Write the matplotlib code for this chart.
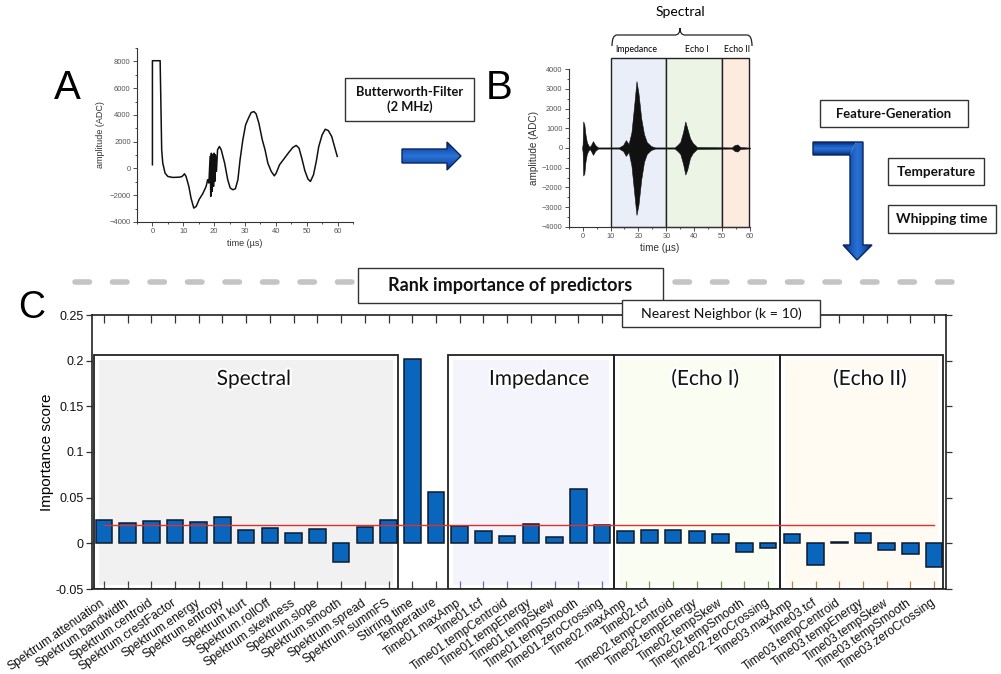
import matplotlib

matplotlib.use("Agg")
import matplotlib.pyplot as plt
import matplotlib.transforms as mtransforms
import numpy as np
from matplotlib import patheffects
from matplotlib.colors import LinearSegmentedColormap
from matplotlib.patches import PathPatch, Polygon, Rectangle
from matplotlib.path import Path
from matplotlib.ticker import FormatStrFormatter, MultipleLocator

plt.rcParams["font.family"] = ["Liberation Sans", "DejaVu Sans"]

W, H = 1001, 674

# panel A: raw trace (time in us, amplitude in ADC)
raw_t = [0.0, 0.0, 2.5, 3.0, 3.35, 4.1, 5.0, 6.6, 8.8, 9.6, 10.4, 10.9, 11.8, 12.5,
         13.4, 14.2, 15.2, 16.3, 17.4, 17.9, 18.3, 18.7, 18.9, 19.1, 19.35, 19.55,
         19.8, 20.0, 20.2, 20.4, 20.75, 21.1, 21.7, 22.3, 23.4, 24.4, 25.2, 26.1,
         26.9, 27.7, 28.4, 29.3, 30.2, 31.1, 32.0, 32.9, 33.6, 34.5, 35.6, 36.5,
         37.4, 38.5, 39.5, 40.1, 41.2, 42.8, 44.2, 45.5, 46.6, 47.5, 48.4, 49.4,
         50.4, 51.2, 52.2, 53.1, 53.9, 55.0, 56.0, 57.0, 58.1, 59.0, 59.9]
raw_amp = [275, 8050, 8050, 1390, 400, -350, -600, -670, -650, -600, -400, -600,
           -1340, -2210, -2960, -2830, -2290, -1890, -1340, -840, -1090, 900, -2090,
           1140, -1710, 1020, -1340, 1140, -970, 1020, -220, 1390, 1640, 1390, 400,
           -840, -1460, -1590, -1510, -840, 650, 2140, 3260, 3750, 4180, 4250, 4080,
           3380, 2140, 1390, 400, -220, -550, -350, 280, 770, 1200, 1570, 1720, 1520,
           770, -170, -790, -970, -470, 530, 1640, 2510, 2930, 2830, 2390, 1640, 900]

# panel B: envelope of the 2 MHz filtered trace
filt_t = [-0.2, 0.0, 0.2, 0.6, 1.0, 1.5, 2.0, 2.5, 3.0, 3.7, 4.5, 5.5, 13.0, 14.5,
          15.5, 16.5, 17.5, 18.5, 19.3, 20.0, 21.0, 22.0, 23.0, 24.5, 26.0, 33.0,
          34.0, 35.0, 36.0, 36.8, 37.5, 38.5, 39.5, 41.0, 53.5, 54.5, 55.5, 56.5, 60.0]
filt_hi = [0, 200, 1350, 1200, 700, 300, 150, 50, 150, 350, 150, 30, 30, 150, 400,
           200, 800, 2200, 3400, 2800, 1500, 700, 300, 100, 30, 30, 150, 300, 800,
           1350, 1000, 500, 250, 50, 30, 150, 180, 50, 20]
filt_lo = [0, -200, -1400, -1300, -700, -300, -150, -50, -150, -350, -150, -30, -30,
           -150, -400, -200, -900, -2300, -3400, -2900, -1600, -700, -300, -100, -30,
           -30, -150, -300, -800, -1350, -1100, -500, -250, -50, -30, -150, -180, -50,
           -20]

windows = ["Impedance", "Echo I", "Echo II"]
window_start = [10, 30, 50]
window_end = [30, 50, 59.5]
window_colors = ["#e9eef8", "#ecf4e6", "#fdebe0"]

# panel C: predictor importance
predictors = [
    "Spektrum.attenuation", "Spektrum.bandwidth", "Spektrum.centroid",
    "Spektrum.crestFactor", "Spektrum.energy", "Spektrum.entropy", "Spektrum.kurt",
    "Spektrum.rollOff", "Spektrum.skewness", "Spektrum.slope", "Spektrum.smooth",
    "Spektrum.spread", "Spektrum.summFS", "Stirring time", "Temperature",
    "Time01.maxAmp", "Time01.tcf", "Time01.tempCentroid", "Time01.tempEnergy",
    "Time01.tempSkew", "Time01.tempSmooth", "Time01.zeroCrossing",
    "Time02.maxAmp", "Time02.tcf", "Time02.tempCentroid", "Time02.tempEnergy",
    "Time02.tempSkew", "Time02.tempSmooth", "Time02.zeroCrossing",
    "Time03.maxAmp", "Time03.tcf", "Time03.tempCentroid", "Time03.tempEnergy",
    "Time03.tempSkew", "Time03.tempSmooth", "Time03.zeroCrossing",
]
importance = [0.0257, 0.0228, 0.0243, 0.0257, 0.0239, 0.0283, 0.0148, 0.0166, 0.0111,
              0.0159, -0.0199, 0.0184, 0.0254, 0.202, 0.056,
              0.0195, 0.014, 0.0079, 0.0213, 0.0065, 0.059, 0.0197,
              0.0135, 0.0146, 0.0142, 0.0135, 0.0102, -0.0095, -0.0047,
              0.0098, -0.0241, 0.001, 0.0109, -0.0073, -0.012, -0.0258]
threshold = 0.0205

groups = ["Spectral", "Impedance", "(Echo I)", "(Echo II)"]
group_first = [0, 15, 22, 29]
group_last = [12, 21, 28, 35]
group_fill = ["#f1f1f1", "#f4f4fd", "#fafdf2", "#fffaf2"]
group_tick = ["#444444", "#6a6aa8", "#6aa04a", "#b08a40"]

fig = plt.figure(figsize=(W / 100, H / 100), dpi=100)


def px_rect(x0, y0, x1, y1):
    return [x0 / W, 1 - y1 / H, (x1 - x0) / W, (y1 - y0) / H]


def small_axes(ax, size):
    for side in ("top", "right"):
        ax.spines[side].set_visible(False)
    for side in ("left", "bottom"):
        ax.spines[side].set_color("#333333")
        ax.spines[side].set_linewidth(0.8)
    ax.tick_params(which="both", direction="out", colors="#333333", labelcolor="#555555",
                   labelsize=size, width=0.6, pad=1.5)
    ax.tick_params(which="major", length=3)
    ax.tick_params(which="minor", length=1.5)


# ---- panel A
ax_a = fig.add_axes(px_rect(137, 48, 353, 222))
ax_a.plot(raw_t, raw_amp, color="#111111", lw=1.1)
ax_a.set_xlim(-5, 65)
ax_a.set_ylim(-4000, 9000)
ax_a.xaxis.set_major_locator(MultipleLocator(10))
ax_a.xaxis.set_minor_locator(MultipleLocator(5))
ax_a.yaxis.set_major_locator(MultipleLocator(2000))
ax_a.yaxis.set_minor_locator(MultipleLocator(1000))
small_axes(ax_a, 5.5)
ax_a.set_xlabel("time (µs)", fontsize=6.5, color="#333333", labelpad=3)
ax_a.set_ylabel("amplitude (ADC)", fontsize=6.5, color="#333333", labelpad=3)

# ---- panel B
ax_b = fig.add_axes(px_rect(568.7, 69.3, 750, 226.7))
for s, e, c in zip(window_start, window_end, window_colors):
    ax_b.add_patch(Rectangle((s, -4000), e - s, 8580, facecolor=c, edgecolor="#222222",
                             lw=1.0, clip_on=False, zorder=0))
ax_b.fill_between(filt_t, filt_lo, filt_hi, color="#111111", lw=0.4, zorder=2)
ax_b.set_xlim(-5, 60)
ax_b.set_ylim(-4000, 4000)
ax_b.xaxis.set_major_locator(MultipleLocator(10))
ax_b.xaxis.set_minor_locator(MultipleLocator(5))
ax_b.yaxis.set_major_locator(MultipleLocator(1000))
ax_b.yaxis.set_minor_locator(MultipleLocator(500))
small_axes(ax_b, 5.3)
ax_b.set_xlabel("time (µs)", fontsize=7.2, color="#333333", labelpad=2)
ax_b.set_ylabel("amplitude (ADC)", fontsize=7.2, color="#333333", labelpad=2)

# ---- panel C
ax_c = fig.add_axes(px_rect(92, 315, 946, 589))
x = np.arange(len(predictors))
ax_c.set_xlim(-0.5, 35.5)
ax_c.set_ylim(-0.05, 0.25)
box_top = 0.2062

for k, name in enumerate(groups):
    lo = group_first[k] - (0.42 if k == 0 else 0.5)
    hi = group_last[k] + (0.38 if k in (0, 3) else 0.5)
    ax_c.add_patch(Rectangle((lo + 0.2, -0.046), hi - lo - 0.4, box_top + 0.04,
                             facecolor=group_fill[k], edgecolor="none", zorder=0.5))
    ax_c.add_patch(Rectangle((lo, -0.05), hi - lo, box_top + 0.05, facecolor="none",
                             edgecolor="#222222", lw=1.3, zorder=2))
    ax_c.text((lo + hi) / 2 + 0.35, 0.18, name, fontsize=15, family="Lato",
              ha="center", va="center", color="#111111", zorder=5,
              path_effects=[patheffects.withStroke(linewidth=3, foreground="white")])

ax_c.bar(x, importance, width=0.7, color="#0a66bd", edgecolor="#0d1b2e", lw=1.1,
         zorder=3)
ax_c.plot([x[0], x[-1]], [threshold, threshold], color="#e0302a", lw=1, zorder=4)

ax_c.set_xticks(x)
ax_c.set_xticklabels(predictors, rotation=35, ha="right", va="center",
                     rotation_mode="anchor", fontsize=8.7)
shift = mtransforms.ScaledTranslation(5 / 100, 0, fig.dpi_scale_trans)
for lab in ax_c.get_xticklabels():
    lab.set_transform(lab.get_transform() + shift)
ax_c.yaxis.set_major_locator(MultipleLocator(0.05))
ax_c.yaxis.set_major_formatter(FormatStrFormatter("%g"))
ax_c.tick_params(axis="x", which="major", direction="in", top=True, length=6,
                 width=0.9, pad=9, colors="#333333", labelcolor="#111111")
ax_c.tick_params(axis="y", direction="out", length=4, width=0.9, labelsize=9,
                 colors="#333333", labelcolor="#111111", pad=2)
ax_c.tick_params(axis="y", right=True)
for side in ax_c.spines.values():
    side.set_linewidth(1.2)
    side.set_color("#222222")
for i, tk in enumerate(ax_c.xaxis.get_major_ticks()):
    g = [k for k in range(len(groups)) if group_first[k] <= i <= group_last[k]]
    tk.tick1line.set_markeredgecolor(group_tick[g[0]] if g else "#444444")
ax_c.set_ylabel("Importance score", fontsize=11, labelpad=1)

# ---- overlay for letters, boxes and arrows
ov = fig.add_axes([0, 0, 1, 1])
ov.set_zorder(10)
ov.axis("off")

arrow_cmap = LinearSegmentedColormap.from_list(
    "arrow", ["#0a2466", "#1556b8", "#2a72d4", "#1556b8", "#0a2466"])


def gradient_fill(clip_points, box, across_y):
    clip = Polygon(clip_points, closed=True, facecolor="none", edgecolor="none")
    ov.add_patch(clip)
    ramp = np.linspace(0, 1, 64)
    img = ramp[:, None] if across_y else ramp[None, :]
    im = ov.imshow(img, cmap=arrow_cmap, extent=box, aspect="auto", zorder=2,
                   interpolation="bilinear")
    im.set_clip_path(clip)


def outline(points):
    ov.add_patch(Polygon(points, closed=True, facecolor="none", edgecolor="#0b2560",
                         lw=1.0, joinstyle="miter", zorder=3))


right_arrow = [(402, 149), (447, 149), (447, 142), (461, 156), (447, 170),
               (447, 163), (402, 163)]
gradient_fill(right_arrow, (402, 461, 170, 142), True)
outline(right_arrow)

down_arrow = [(813, 142), (863, 142), (863, 245), (872, 245), (857, 260), (843, 245),
              (850, 245), (850, 155), (813, 155)]
gradient_fill([(813, 142), (856, 142), (850, 155), (813, 155)],
              (813, 856, 155, 142), True)
gradient_fill([(856, 142), (863, 142), (863, 245), (872, 245), (857, 260), (843, 245),
               (850, 245), (850, 155)], (843, 872, 260, 142), False)
outline(down_arrow)


def label_box(x0, y0, x1, y1, text, size, weight="bold", lw=1.0):
    ov.add_patch(Rectangle((x0, y0), x1 - x0, y1 - y0, facecolor="white",
                           edgecolor="#333333", lw=lw, zorder=4))
    ov.text((x0 + x1) / 2, (y0 + y1) / 2, text, fontsize=size, family="Lato",
            weight=weight, ha="center", va="center", color="#111111", zorder=5,
            linespacing=1.25)


ov.plot([75, 960], [282, 282], color="#c4c4c4", lw=4, dash_capstyle="round",
        linestyle=(0, (2.6, 4.15)), zorder=1)

label_box(345, 78, 474, 121, "Butterworth-Filter\n(2 MHz)", 9.3)
label_box(820, 100, 968, 127, "Feature-Generation", 9.4)
label_box(888, 158, 984, 185, "Temperature", 9.8)
label_box(888, 205, 996, 233, "Whipping time", 10)
label_box(358, 268, 663, 303, "Rank importance of predictors", 13)
label_box(622, 300, 820, 327, "Nearest Neighbor (k = 10)", 10.2, weight="normal")

ov.text(67, 88, "A", fontsize=29, ha="center", va="center")
ov.text(499, 88, "B", fontsize=29, ha="center", va="center")
ov.text(32, 308, "C", fontsize=27, ha="center", va="center")

# brace over the filtered trace
brace = Path([(612, 46), (612, 35), (617, 35), (675, 35), (680, 35), (680, 28),
              (680, 35), (685, 35), (747, 35), (752, 35), (752, 46)],
             [Path.MOVETO, Path.CURVE3, Path.CURVE3, Path.LINETO, Path.CURVE3,
              Path.CURVE3, Path.CURVE3, Path.CURVE3, Path.LINETO, Path.CURVE3,
              Path.CURVE3])
ov.add_patch(PathPatch(brace, facecolor="none", edgecolor="#222222", lw=0.9))
ov.text(680, 12, "Spectral", fontsize=10, family="Lato", ha="center", va="center")
for name, px in zip(windows, [636, 697, 737]):
    ov.text(px, 49, name, fontsize=6.3, family="Lato", ha="center", va="center")

ov.set_xlim(0, W)
ov.set_ylim(H, 0)

fig.savefig("out.png", dpi=100)
